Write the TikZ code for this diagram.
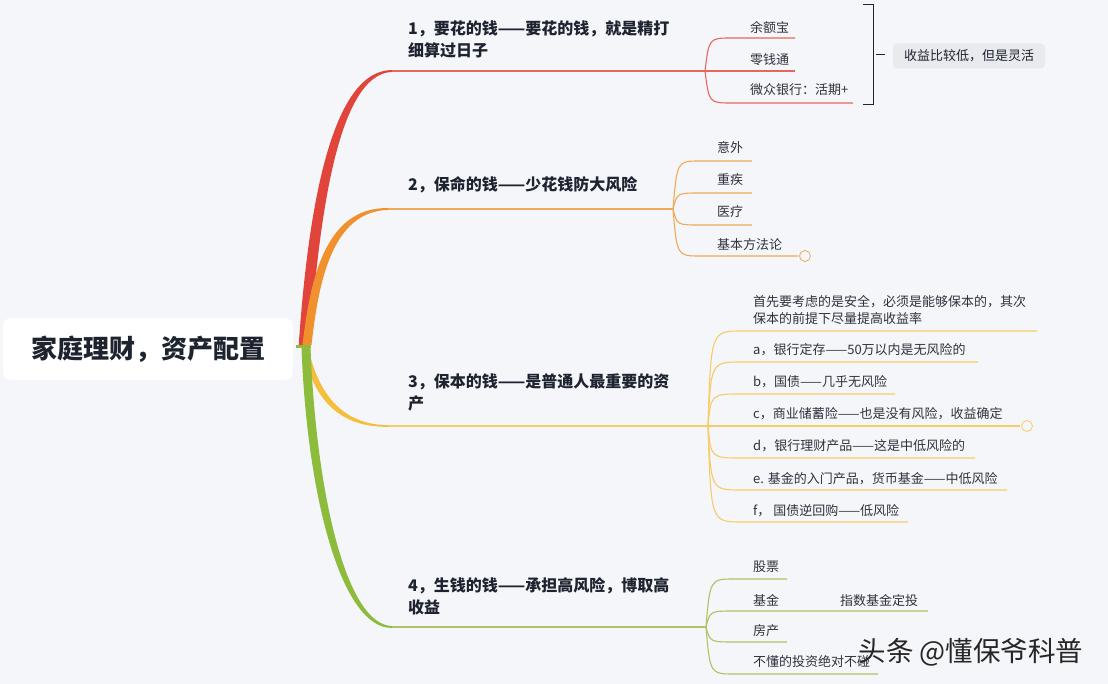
\documentclass[tikz,border=0pt]{standalone}
\usepackage{fontspec}
\setmainfont{Noto Sans CJK SC}
\usetikzlibrary{positioning,calc}
\definecolor{canvasBg}{HTML}{F5F6F9}
\definecolor{brRed}{HTML}{E0443B}
\definecolor{lnRed}{HTML}{E6675F}
\definecolor{brOrange}{HTML}{F0912E}
\definecolor{lnOrange}{HTML}{EEAA5A}
\definecolor{brYellow}{HTML}{F5BE3C}
\definecolor{lnYellow}{HTML}{F5CC68}
\definecolor{brGreen}{HTML}{8DBB3C}
\definecolor{lnGreen}{HTML}{AFC265}
\definecolor{inkDark}{HTML}{1E2330}
\definecolor{inkItem}{HTML}{2E323C}
\definecolor{noteFill}{HTML}{E8EAED}

\begin{document}
\begin{tikzpicture}[x=1pt, y=-1pt,
    root/.style={fill=white, rounded corners=8pt, minimum width=290pt, minimum height=62pt, font=\fontsize{26}{30}\selectfont\bfseries, text=inkDark},
    topic/.style={anchor=south west, inner sep=0pt, align=left, font=\fontsize{16}{22}\selectfont\bfseries, text=inkDark},
    item/.style={anchor=base west, inner sep=0pt, font=\fontsize{13}{16.5}\selectfont, text=inkItem},
    limb/.style={line width=1.5pt},
    twig/.style={line width=1.1pt},
    fold/.style={draw, circle, line width=0.8pt, minimum size=11pt, inner sep=0pt},
    note/.style={fill=noteFill, rounded corners=4pt, minimum width=152pt, minimum height=25pt, font=\fontsize{13}{16}\selectfont, text=inkDark},
    wmText/.style={font=\fontsize{27.5}{30}\selectfont, text=black!85}]
  \useasboundingbox (0,0) rectangle (1108,684);
  \fill[canvasBg] (0,0) rectangle (1108,684);

  % hub and joints
  \coordinate (hub) at (304,350);
  \coordinate (e1) at (392,71);   \coordinate (j1) at (705,71);
  \coordinate (e2) at (388,209);  \coordinate (j2) at (673,209);
  \coordinate (e3) at (388,426);  \coordinate (j3) at (708,426);
  \coordinate (e4) at (392,627);  \coordinate (j4) at (706,627);

  \node[root] (root) at (148,349) {家庭理财，资产配置};

  % tapered main branches
  \fill[brRed] (298.5,348) .. controls (306.5,230) and (327,69.8) .. (392,70.1)
    -- (392,71.9) .. controls (335,74) and (318,233) .. (309.5,348) -- cycle;
  \fill[brOrange] (302.5,345) .. controls (310,280) and (325,207) .. (388,208.1)
    -- (388,209.9) .. controls (332,211.5) and (318.5,282) .. (311.5,345) -- cycle;
  \fill[brYellow] (303.5,352) .. controls (312.5,393) and (334,427.5) .. (388,426.8)
    -- (388,425.2) .. controls (337,424.5) and (318,387) .. (309,352) -- cycle;
  \fill[brGreen] (301.5,348) .. controls (307.5,503) and (343,629) .. (392,627.9)
    -- (392,626.1) .. controls (347,625) and (316.5,497) .. (310.5,348) -- cycle;
  \draw[brGreen, line width=3pt] (296,347) -- (311,347);

  \draw[limb, lnRed] (e1) -- (j1);
  \draw[limb, lnOrange] (e2) -- (j2);
  \draw[limb, lnYellow] (e3) -- (j3);
  \draw[limb, lnGreen] (e4) -- (j4);

  \node[topic] (t1) at (408,58) {1，要花的钱——要花的钱，就是精打\\细算过日子};
  \node[topic] (t2) at (408,193) {2，保命的钱——少花钱防大风险};
  \node[topic] (t3) at (408,411) {3，保本的钱——是普通人最重要的资\\产};
  \node[topic] (t4) at (408,615) {4，生钱的钱——承担高风险，博取高\\收益};

  % branch 1
  \foreach \ly/\lx/\ty/\txt [count=\i] in {38/795/33/余额宝, 71/795/65/零钱通, 103/853/95/微众银行：活期+} {
    \draw[twig, lnRed] (j1) .. controls (709,\ly) .. (732,\ly) -- (\lx,\ly);
    \node[item] (b1i\i) at (750,\ty) {\txt};
  }
  \draw[line width=1pt, inkDark] (863,5) -- (873,5) -- (873,105) -- (863,105);
  \draw[line width=1pt, inkDark] (876,55) -- (885,55);
  \node[note] (n1) at (969,56) {收益比较低，但是灵活};

  % branch 2
  \foreach \ly/\lx/\ty/\txt [count=\i] in {161/752/153/意外, 193/752/185/重疾, 225/752/217/医疗, 256/798/250/基本方法论} {
    \draw[twig, lnOrange] (j2) .. controls (677,\ly) .. (700,\ly) -- (\lx,\ly);
    \node[item] (b2i\i) at (717,\ty) {\txt};
  }
  \node[fold, draw=lnOrange] (f2) at (805,256) {};

  % branch 3
  \node[item, anchor=south west, align=left] (b3i0) at (753,324.5)
    {首先要考虑的是安全，必须是能够保本的，其次\\保本的前提下尽量提高收益率};
  \draw[twig, lnYellow] (j3) .. controls (711,331) .. (742,331) -- (1037,331);
  \foreach \ly/\lx/\ty/\txt [count=\i] in {362/978/355/a，银行定存——50万以内是无风险的,
      394/895/386.5/b，国债——几乎无风险, 426/1020/418/c，商业储蓄险——也是没有风险，收益确定,
      458/975/450/d，银行理财产品——这是中低风险的, 490/1007/483/e. 基金的入门产品，货币基金——中低风险,
      522/908/515/f， 国债逆回购——低风险} {
    \draw[twig, lnYellow] (j3) .. controls (711,\ly) .. (742,\ly) -- (\lx,\ly);
    \node[item] (b3i\i) at (753,\ty) {\txt};
  }
  \node[fold, draw=lnYellow] (f3) at (1027,426) {};

  % branch 4
  \foreach \ly/\lx/\ty/\txt [count=\i] in {579/787/571.5/股票, 611/928/605/基金, 642/787/635/房产, 674/878/666.5/不懂的投资绝对不碰} {
    \draw[twig, lnGreen] (j4) .. controls (710,\ly) .. (735,\ly) -- (\lx,\ly);
    \node[item] (b4i\i) at (753,\ty) {\txt};
  }
  \node[item] (b4x) at (840,605) {指数基金定投};

  \node[wmText] (wm) at (971,652) {头条 @懂保爷科普};
\end{tikzpicture}
\end{document}
